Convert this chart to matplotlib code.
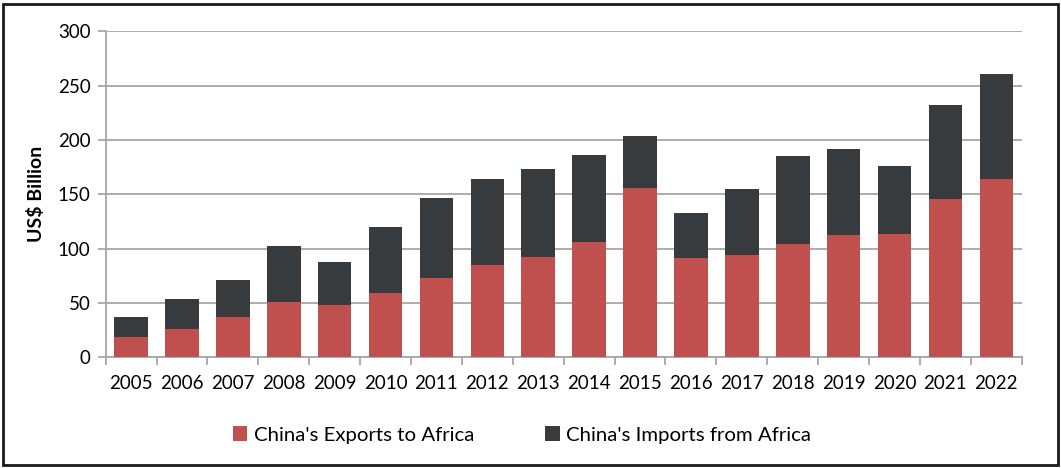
import numpy as np
import matplotlib.pyplot as plt
from matplotlib.patches import Rectangle

# --- data (US$ billion) ---
years = ['2005', '2006', '2007', '2008', '2009', '2010', '2011', '2012', '2013',
         '2014', '2015', '2016', '2017', '2018', '2019', '2020', '2021', '2022']
exports = [18.4, 26.4, 37.1, 50.9, 47.9, 59.5, 72.7, 85.0, 92.6,
           105.8, 155.8, 91.7, 93.9, 104.6, 112.6, 113.5, 145.4, 164.1]
totals = [37.4, 53.4, 71.2, 102.1, 87.7, 120.2, 146.3, 164.1, 173.6,
          185.9, 203.4, 133.1, 154.6, 185.3, 191.7, 176.1, 231.9, 261.0]
imports = [t - e for t, e in zip(totals, exports)]

red = '#C0504D'
dark = '#383B3E'
grid_col = '#A6A6A6'

plt.rcParams['font.family'] = ['Lato', 'DejaVu Sans']

fig = plt.figure(figsize=(10.61, 4.68), dpi=100)
ax = fig.add_axes([0.0996, 0.2365, 0.8634, 0.6966])

x = np.arange(len(years))
ax.bar(x, exports, width=0.66, color=red, label="China's Exports to Africa", zorder=3)
ax.bar(x, imports, width=0.66, bottom=exports, color=dark,
       label="China's Imports from Africa", zorder=3)

ax.set_xlim(-0.5, len(years) - 0.5)
ax.set_ylim(0, 300)
ax.set_yticks(range(0, 301, 50))
ax.yaxis.grid(True, color=grid_col, linewidth=1.3, zorder=0)

# category labels centred, tick marks on the boundaries
ax.set_xticks(x)
ax.set_xticklabels(years, fontsize=13.5)
ax.tick_params(axis='x', which='major', length=0, pad=13)
ax.set_xticks(np.arange(-0.5, len(years), 1), minor=True)
ax.tick_params(axis='x', which='minor', length=6, width=1.3, color=grid_col, direction='out')
ax.tick_params(axis='y', length=6, width=1.3, color=grid_col, labelsize=13.5, pad=5)

for s in ['top', 'right']:
    ax.spines[s].set_visible(False)
for s in ['left', 'bottom']:
    ax.spines[s].set_color(grid_col)
    ax.spines[s].set_linewidth(1.3)

ax.set_ylabel('US$ Billion', fontsize=14, fontweight='bold', labelpad=9)

fig.legend(loc='center', bbox_to_anchor=(0.492, 0.0705), ncol=2, frameon=False,
           fontsize=14.7, handlelength=0.7, handleheight=0.7, handletextpad=0.3,
           columnspacing=3.5)

# outer border
fig.patches.append(Rectangle((3 / 1061, 3 / 468), 1055 / 1061, 461 / 468,
                             transform=fig.transFigure, fill=False,
                             edgecolor='#1a1a1a', linewidth=2))

fig.savefig('out.png', dpi=100)
